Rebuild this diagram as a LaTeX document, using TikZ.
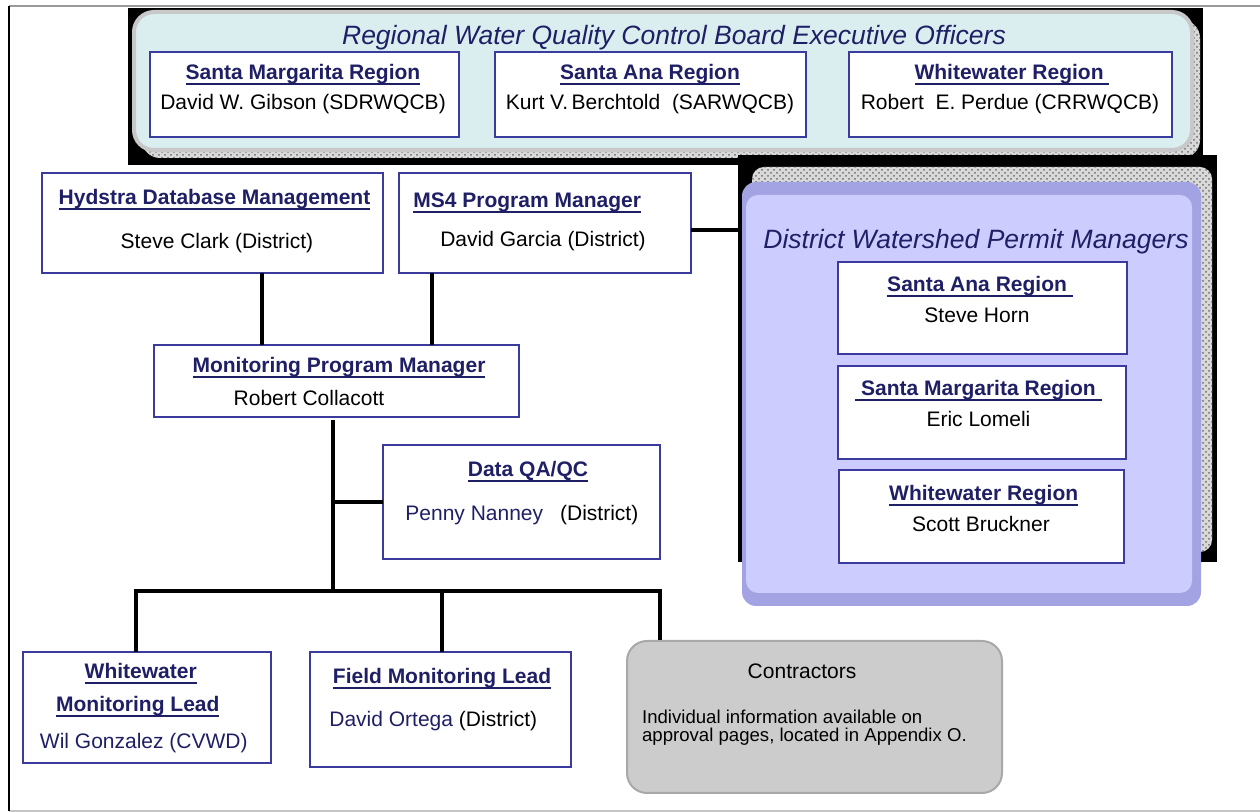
\documentclass[tikz,border=0pt]{standalone}
\usepackage{fontspec}
\setmainfont{Liberation Sans}
\usetikzlibrary{patterns}
\definecolor{navy}{HTML}{1F1F66}
\definecolor{boxblue}{HTML}{3B3B9E}
\definecolor{panelcyan}{HTML}{DAEEF0}
\definecolor{panelrim}{HTML}{C8C8C8}
\definecolor{lav}{HTML}{CCCCFF}
\definecolor{lavdark}{HTML}{A3A3E3}
\definecolor{congray}{HTML}{CCCCCC}
\definecolor{conrim}{HTML}{A8A8A8}
\newcommand\fs{\fontsize{10.5}{12.6}\selectfont}
\newcommand\hul[1]{\setbox0=\hbox{#1}\rlap{\rule[-2.4pt]{\wd0}{1.1pt}}\box0}
\begin{document}
\begin{tikzpicture}[x=0.5pt,y=-0.5pt,
  box/.style={draw=boxblue,line width=1pt,fill=white,inner sep=0pt,outer sep=0pt},
  hd/.style={font=\fs\bfseries,text=navy,anchor=base,inner sep=0pt},
  nm/.style={font=\fs,text=black,anchor=base,inner sep=0pt},
  ttl/.style={font=\fontsize{13.25}{15}\selectfont\itshape,text=navy,anchor=base,inner sep=0pt},
  conn/.style={line width=1.75pt,black},
  hatch/.style={fill=gray!30},
  hatchdots/.style={pattern=crosshatch dots,pattern color=gray!85!black}]
\useasboundingbox (0,0) rectangle (1260,812);
% outer frame
\draw[gray!80,line width=0.75pt] (9,6) -- (1260,6);
\draw[gray!45,line width=1pt] (9,811) -- (1260,811);
\draw[black,line width=1pt] (9,6) -- (9,811);
% top panel with shadow
\fill[black] (128,8) rectangle (1203,165);
\path[hatch,rounded corners=9pt] (142,20) rectangle (1200,158);
\path[hatchdots,rounded corners=9pt] (142,20) rectangle (1200,158);
\node[draw=panelrim,line width=2pt,fill=panelcyan,rounded corners=10pt,minimum width=529pt,minimum height=69pt,inner sep=0pt] (tpanel) at (663,81) {};
\node[ttl] (ttitle) at (674,45) {Regional Water Quality Control Board Executive Officers};
\node[box,minimum width=154.5pt,minimum height=42.5pt] (tSM) at (304.5,94.5) {};
\node[hd] (tSMh) at (303,80) {\hul{Santa Margarita Region}};
\node[nm] (tSMn) at (303,110) {David W. Gibson (SDRWQCB)};
\node[box,minimum width=155.5pt,minimum height=42.5pt] (tSA) at (650.5,94.5) {};
\node[hd] (tSAh) at (650,80) {\hul{Santa Ana Region}};
\node[nm] (tSAn) at (650,110) {Kurt V.\,Berchtold\ \ (SARWQCB)};
\node[box,minimum width=161.5pt,minimum height=42.5pt] (tWW) at (1010.5,94.5) {};
\node[hd] (tWWh) at (1012,80) {\hul{Whitewater Region\ }};
\node[nm] (tWWn) at (1010,110) {Robert\ \ E. Perdue (CRRWQCB)};
% right panel with shadow
\fill[black] (738,155) rectangle (1217,562);
\path[hatch,rounded corners=6pt] (752,167) rectangle (1212,552);
\path[hatchdots,rounded corners=6pt] (752,167) rectangle (1212,552);
\node[fill=lavdark,rounded corners=7pt,minimum width=229.5pt,minimum height=212pt,inner sep=0pt] (rpanel) at (971.5,394) {};
\fill[lav,rounded corners=6pt] (746,195) rectangle (1192,593);
\node[ttl] (rtitle) at (976,249) {District Watershed Permit Managers};
\node[box,minimum width=144.5pt,minimum height=46pt] (rSA) at (982.5,308) {};
\node[hd] (rSAh) at (980,292) {\hul{Santa Ana Region\ }};
\node[nm] (rSAn) at (977,323) {Steve Horn};
\node[box,minimum width=144pt,minimum height=46.5pt] (rSM) at (982,412.5) {};
\node[hd] (rSMh) at (978.5,396) {\hul{\ Santa Margarita Region\ }};
\node[nm] (rSMn) at (978.5,427) {Eric Lomeli};
\node[box,minimum width=142.5pt,minimum height=46.5pt] (rWW) at (981.5,516.5) {};
\node[hd] (rWWh) at (983.7,501) {\hul{Whitewater Region}};
\node[nm] (rWWn) at (981,532) {Scott Bruckner};
% district boxes
\node[box,minimum width=170.5pt,minimum height=50pt] (hyd) at (212.5,223) {};
\node[hd] (hydh) at (214.5,205) {\hul{Hydstra Database Management}};
\node[nm] (hydn) at (217,249) {Steve Clark (District)};
\node[box,minimum width=146pt,minimum height=50pt] (ms4) at (545,223) {};
\node[hd,anchor=base west] (ms4h) at (413,208) {\hul{MS4 Program Manager}};
\node[nm] (ms4n) at (543,247) {David Garcia (District)};
\node[box,minimum width=182.5pt,minimum height=36pt] (mpm) at (336.5,381) {};
\node[hd] (mpmh) at (339,373) {\hul{Monitoring Program Manager}};
\node[nm] (mpmn) at (309,406) {Robert Collacott};
\node[box,minimum width=138.5pt,minimum height=57pt] (qa) at (521.5,502) {};
\node[hd] (qah) at (528,477) {\hul{Data QA/QC}};
\node[nm,anchor=base west] (qan) at (405,521) {{\color{navy}Penny Nanney}\hspace{8.5pt}(District)};
\node[box,minimum width=124pt,minimum height=55.5pt] (wwl) at (147,707.5) {};
\node[hd] (wwlh1) at (140.7,679) {\hul{Whitewater}};
\node[hd] (wwlh2) at (137.8,712) {\hul{Monitoring Lead}};
\node[nm,text=navy] (wwln) at (143.8,748) {Wil Gonzalez (CVWD)};
\node[box,minimum width=130.5pt,minimum height=57.5pt] (fml) at (440.5,709.5) {};
\node[hd] (fmlh) at (442,684) {\hul{Field Monitoring Lead}};
\node[nm,anchor=base west] (fmln) at (329,727) {{\color{navy}David Ortega} (District)};
\node[draw=conrim,line width=1pt,fill=congray,rounded corners=10pt,minimum width=187.5pt,minimum height=76pt,inner sep=0pt] (con) at (814.5,717) {};
\node[nm] (conh) at (802,679) {Contractors};
\node[nm,anchor=base west,font=\fontsize{9.3}{11}\selectfont] (con1) at (641.7,724) {Individual information available on};
\node[nm,anchor=base west,font=\fontsize{9.3}{11}\selectfont] (con2) at (641.7,742) {approval pages, located in Appendix O.};
% connector helper coordinates
\coordinate (xH) at (262,0);
\coordinate (xM) at (432,0);
\coordinate (xW) at (136,0);
\coordinate (xF) at (442,0);
\coordinate (xC) at (660,0);
\coordinate (yMS) at (0,230);
\coordinate (busL) at (136,591);
\coordinate (busM) at (333,591);
\coordinate (busR) at (660,591);
\coordinate (jq) at (333,502);
\coordinate (mpmb) at (333,420);
% connectors
\draw[conn] (hyd.south -| xH) -- (mpm.north -| xH);
\draw[conn] (ms4.south -| xM) -- (mpm.north -| xM);
\draw[conn] (ms4.east |- yMS) -- (rpanel.west |- yMS);
\draw[conn] (mpmb) -- (busM);
\draw[conn] (jq) -- (qa.west |- jq);
\draw[conn] (wwl.north -| xW) -- (busL) -- (busR) -- (con.north -| xC);
\draw[conn] (busM -| xF) -- (fml.north -| xF);
\end{tikzpicture}
\end{document}
